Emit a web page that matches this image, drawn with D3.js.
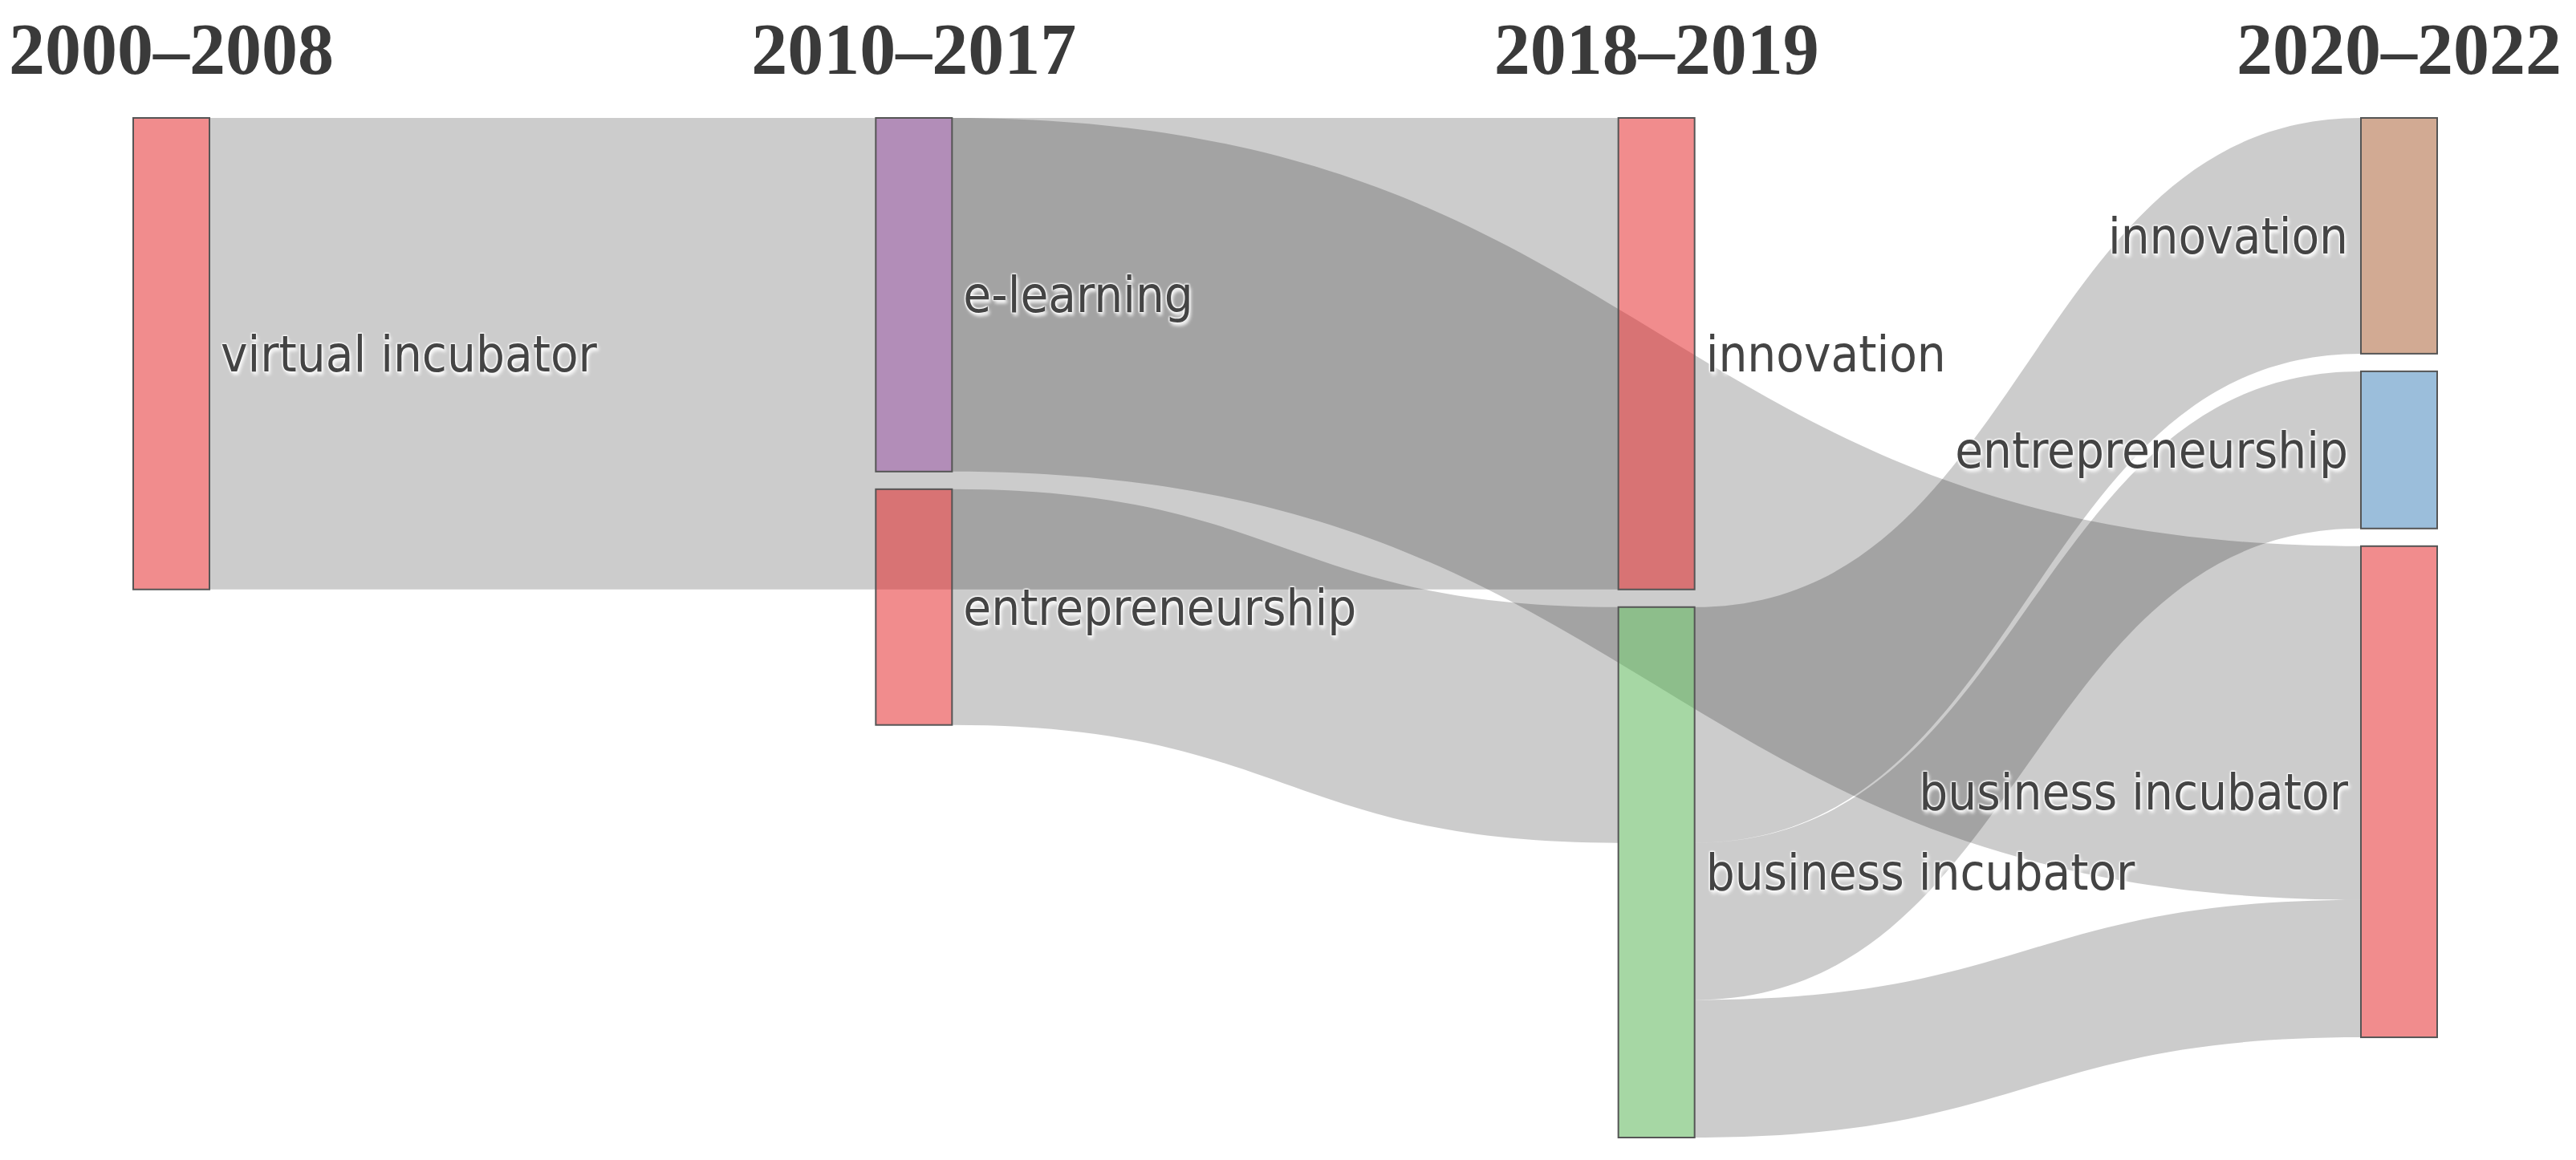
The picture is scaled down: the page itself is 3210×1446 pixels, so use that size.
<!DOCTYPE html>
<html>
<head>
<meta charset="utf-8">
<script src="https://cdn.jsdelivr.net/npm/d3@7"></script>
<style>
  body { margin: 0; background: #fff; }
  .node-label {
    font-family: "DejaVu Sans Condensed", "DejaVu Sans", sans-serif;
    font-stretch: condensed;
    fill: #444;
    text-shadow: 2px 4px 4px #fff, -1px -1px 2px #fff, 1px -1px 2px #fff, -1px 1px 2px #fff;
  }
  .period {
    font-family: "Liberation Serif", "DejaVu Serif", serif;
    font-weight: bold;
    fill: #3a3a3a;
  }
</style>
</head>
<body>
<svg id="chart"></svg>
<script>
// periods (columns)
var periods = ["2000–2008", "2010–2017", "2018–2019", "2020–2022"];

// nodes
var nodeNames = ["virtual incubator", "e-learning", "entrepreneurship", "innovation",
                 "business incubator", "innovation", "entrepreneurship", "business incubator"];
var nodePeriod = [0, 1, 1, 2, 2, 3, 3, 3];

// links
var linkSource = [0, 1, 2, 4, 4, 4];
var linkTarget = [3, 7, 4, 5, 6, 7];
var linkValue = [24, 18, 12, 12, 8, 7];

// styles
var nodeColors = ["#e41a1c", "#984ea3", "#e41a1c", "#e41a1c", "#4daf4a", "#a65628", "#377eb8", "#e41a1c"];

var width = 3210,
    height = 1446,
    chartTop = 147,
    chartBottom = 1418,
    nodeWidth = 95,
    nodePad = 22;

var svg = d3.select("#chart")
  .attr("width", width)
  .attr("height", height);

var xScale = d3.scalePoint()
  .domain(periods)
  .range([166, 2942]);

// build nodes and links
var nodes = nodeNames.map(function (name, i) {
  return { index: i, name: name, period: periods[nodePeriod[i]], color: nodeColors[i],
           sourceLinks: [], targetLinks: [] };
});
var links = linkValue.map(function (v, i) {
  var l = { source: nodes[linkSource[i]], target: nodes[linkTarget[i]], value: v };
  l.source.sourceLinks.push(l);
  l.target.targetLinks.push(l);
  return l;
});
nodes.forEach(function (n) {
  n.value = Math.max(d3.sum(n.sourceLinks, function (l) { return l.value; }),
                     d3.sum(n.targetLinks, function (l) { return l.value; }));
});

var columns = d3.groups(nodes, function (n) { return n.period; });

// value scale: tallest column fills the height
var ky = d3.min(columns, function (c) {
  return (chartBottom - chartTop - (c[1].length - 1) * nodePad) / d3.sum(c[1], function (n) { return n.value; });
});
var valueScale = d3.scaleLinear().domain([0, 1]).range([0, ky]);

columns.forEach(function (c) {
  var y = chartTop;
  c[1].forEach(function (n) {
    n.x0 = xScale(n.period);
    n.x1 = n.x0 + nodeWidth;
    n.y0 = y;
    n.y1 = y + valueScale(n.value);
    y = n.y1 + nodePad;
  });
});

nodes.forEach(function (n) {
  n.sourceLinks.sort(function (a, b) { return a.target.y0 - b.target.y0; });
  n.targetLinks.sort(function (a, b) { return a.source.y0 - b.source.y0; });
  var y = n.y0;
  n.sourceLinks.forEach(function (l) { l.sy0 = y; y += valueScale(l.value); l.sy1 = y; });
  y = n.y0;
  n.targetLinks.forEach(function (l) { l.ty0 = y; y += valueScale(l.value); l.ty1 = y; });
});

function linkPath(l) {
  var x0 = l.source.x1, x1 = l.target.x0, xm = (x0 + x1) / 2;
  return "M" + x0 + "," + l.sy0 +
    "C" + xm + "," + l.sy0 + " " + xm + "," + l.ty0 + " " + x1 + "," + l.ty0 +
    "L" + x1 + "," + l.ty1 +
    "C" + xm + "," + l.ty1 + " " + xm + "," + l.sy1 + " " + x0 + "," + l.sy1 + "Z";
}

svg.append("g")
  .attr("class", "links")
  .selectAll("path")
  .data(links)
  .join("path")
  .attr("d", linkPath)
  .style("fill", "rgba(0,0,0,0.2)");

svg.append("g")
  .attr("class", "nodes")
  .selectAll("rect")
  .data(nodes)
  .join("rect")
  .attr("x", function (d) { return d.x0; })
  .attr("y", function (d) { return d.y0; })
  .attr("width", nodeWidth)
  .attr("height", function (d) { return d.y1 - d.y0; })
  .style("fill", function (d) { return d.color; })
  .style("fill-opacity", 0.5)
  .style("stroke", "#555")
  .style("stroke-width", 2);

var last = periods[periods.length - 1];

svg.append("g")
  .selectAll("text")
  .data(nodes)
  .join("text")
  .attr("class", "node-label")
  .attr("x", function (d) { return d.period === last ? d.x0 - 16 : d.x1 + 14; })
  .attr("y", function (d) { return (d.y0 + d.y1) / 2; })
  .attr("dy", "0.35em")
  .attr("text-anchor", function (d) { return d.period === last ? "end" : "start"; })
  .style("font-size", "63px")
  .text(function (d) { return d.name; });

// period headers
svg.append("g")
  .selectAll("text")
  .data(periods)
  .join("text")
  .attr("class", "period")
  .attr("x", function (d) { return xScale(d) + nodeWidth / 2; })
  .attr("y", 92)
  .attr("text-anchor", "middle")
  .style("font-size", "90px")
  .text(function (d) { return d; });
</script>
</body>
</html>
